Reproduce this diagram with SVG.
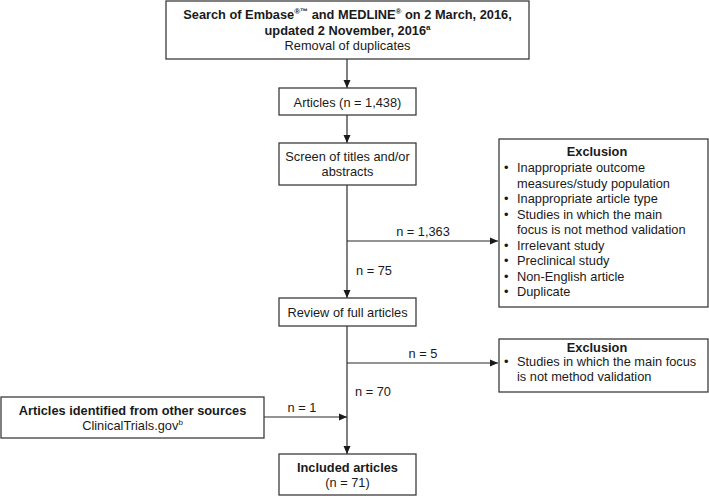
<svg xmlns="http://www.w3.org/2000/svg" width="709" height="496" viewBox="0 0 709 496">
<style>
  .box { fill: #ffffff; stroke: #3c3c3c; stroke-width: 1.3; }
  .ln { fill: none; stroke: #2a2a2a; stroke-width: 1.2; }
  text { font-family: "Liberation Sans", Arial, sans-serif; font-size: 12.8px; fill: #1a1a1a; }
  .b { font-weight: bold; }
  .c { text-anchor: middle; }
  .sup { font-size: 8px; }
</style>
<defs>
  <marker id="ah" markerWidth="8" markerHeight="8" refX="8" refY="4" orient="auto" markerUnits="userSpaceOnUse">
    <path d="M0,0.5 L8,4 L0,7.5 Z" fill="#1a1a1a"/>
  </marker>
</defs>
<rect width="709" height="496" fill="#ffffff"/>
<g id="connectors">
  <line class="ln" x1="347" y1="59" x2="347" y2="88" marker-end="url(#ah)"/>
  <line class="ln" x1="347" y1="115" x2="347" y2="143" marker-end="url(#ah)"/>
  <line class="ln" x1="347" y1="185" x2="347" y2="298" marker-end="url(#ah)"/>
  <line class="ln" x1="347" y1="241" x2="498" y2="241" marker-end="url(#ah)"/>
  <line class="ln" x1="347" y1="326" x2="347" y2="454" marker-end="url(#ah)"/>
  <line class="ln" x1="347" y1="363" x2="498" y2="363" marker-end="url(#ah)"/>
  <line class="ln" x1="264" y1="417" x2="347" y2="417" marker-end="url(#ah)"/>
  <text class="c" x="423" y="236">n = 1,363</text>
  <text x="356" y="275">n = 75</text>
  <text class="c" x="423" y="358">n = 5</text>
  <text x="355" y="396">n = 70</text>
  <text class="c" x="302" y="412">n = 1</text>
</g>
<g id="search">
  <rect class="box" x="166" y="1" width="363" height="58"/>
  <text class="c b" x="347.5" y="19">Search of Embase<tspan class="sup" dy="-5">®™</tspan><tspan dy="5"> and MEDLINE</tspan><tspan class="sup" dy="-5">®</tspan><tspan dy="5"> on 2 March, 2016,</tspan></text>
  <text class="c b" x="347.5" y="35">updated 2 November, 2016<tspan class="sup" dy="-5">a</tspan></text>
  <text class="c" x="347.5" y="50">Removal of duplicates</text>
</g>
<g id="articles">
  <rect class="box" x="279" y="88" width="137" height="27"/>
  <text class="c" x="347.5" y="106.5">Articles (n = 1,438)</text>
</g>
<g id="screen">
  <rect class="box" x="279" y="143" width="137" height="42"/>
  <text class="c" x="347.5" y="161">Screen of titles and/or</text>
  <text class="c" x="347.5" y="176">abstracts</text>
</g>
<g id="exclusion1">
  <rect class="box" x="499" y="139" width="209" height="168"/>
  <text class="c b" x="597" y="156">Exclusion</text>
  <g>
    <text x="504" y="172">•</text><text x="517" y="172">Inappropriate outcome</text>
    <text x="517" y="187.5">measures/study population</text>
    <text x="504" y="203">•</text><text x="517" y="203">Inappropriate article type</text>
    <text x="504" y="218.5">•</text><text x="517" y="218.5">Studies in which the main</text>
    <text x="517" y="234">focus is not method validation</text>
    <text x="504" y="249.5">•</text><text x="517" y="249.5">Irrelevant study</text>
    <text x="504" y="265">•</text><text x="517" y="265">Preclinical study</text>
    <text x="504" y="280.5">•</text><text x="517" y="280.5">Non-English article</text>
    <text x="504" y="296">•</text><text x="517" y="296">Duplicate</text>
  </g>
</g>
<g id="review">
  <rect class="box" x="279" y="298" width="137" height="28"/>
  <text class="c" x="347.5" y="317">Review of full articles</text>
</g>
<g id="exclusion2">
  <rect class="box" x="499" y="339" width="209" height="53"/>
  <text class="c b" x="597" y="352">Exclusion</text>
  <text x="504" y="366">•</text><text x="517" y="366">Studies in which the main focus</text>
  <text x="517" y="381">is not method validation</text>
</g>
<g id="other">
  <rect class="box" x="1" y="397" width="263" height="41"/>
  <text class="c b" x="132.5" y="415">Articles identified from other sources</text>
  <text class="c" x="132.5" y="430">ClinicalTrials.gov<tspan class="sup" dy="-5">b</tspan></text>
</g>
<g id="included">
  <rect class="box" x="279" y="454" width="137" height="41"/>
  <text class="c b" x="347.5" y="471.5">Included articles</text>
  <text class="c" x="347.5" y="486.5">(n = 71)</text>
</g>
</svg>
